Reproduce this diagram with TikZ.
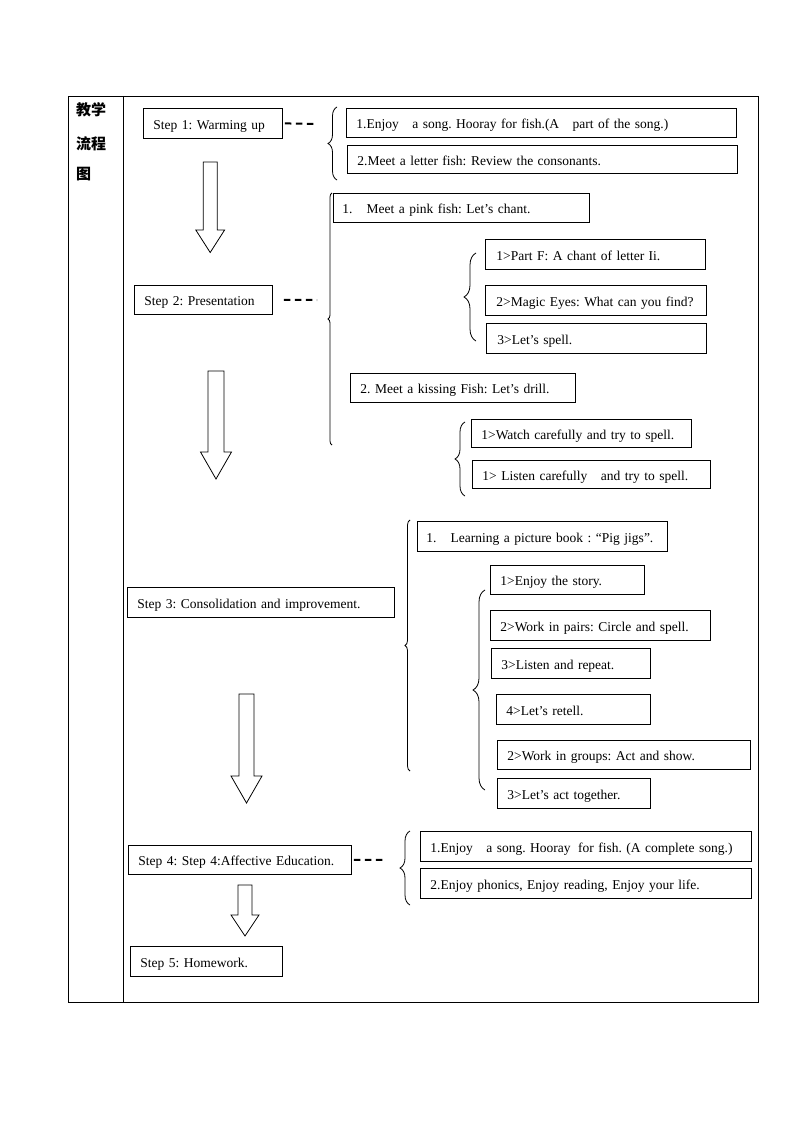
\documentclass[tikz,border=0pt]{standalone}
\usepackage{fontspec}
\setmainfont{Liberation Serif}
\newfontfamily\cjk{Noto Sans CJK SC}
\usetikzlibrary{decorations.pathreplacing}
\frenchspacing
% box macro: name, x1, y1, x2, y2, pad, text
\newcommand\bx[7]{%
  \pgfmathsetmacro\bxw{#4-#2-2*#6}%
  \pgfmathsetmacro\bxh{#5-#3}%
  \node[box,anchor=north west,minimum height=\bxh pt,text width=\bxw pt,inner xsep=#6pt] (#1) at (#2,#3) {\mbox{#7}};}
% hollow arrow: cx, top, headstart, tip, shaft half, head half
\newcommand\hollow[6]{%
  \draw[harrow] (#1-#5,#2) -- (#1+#5,#2) -- (#1+#5,#3) -- (#1+#6,#3) -- (#1,#4) -- (#1-#6,#3) -- (#1-#5,#3) -- cycle;}
% brace: xright, ytop, ybottom, amplitude
\newcommand\brc[4]{%
  \draw[brc,decoration={brace,amplitude=#4pt}] (#1,#3) -- (#1,#2);}
\begin{document}
\begin{tikzpicture}[x=1pt,y=-1pt,
  box/.style={draw,line width=0.8pt,fill=white,font=\fontsize{13.5}{15}\selectfont,inner ysep=0pt,text height=14pt,text depth=2pt,align=left},
  brc/.style={decorate,line width=0.8pt},
  dsh/.style={line width=2pt,dash pattern=on 6.5pt off 4.5pt},
  harrow/.style={line width=0.8pt},
  cjkt/.style={anchor=west,inner sep=0pt,font=\cjk\bfseries\fontsize{15}{17}\selectfont}]
\useasboundingbox (0,0) rectangle (794,1123);
% table
\draw[line width=0.9pt] (68,96) rectangle (758,1002);
\draw[line width=0.9pt] (123,96) -- (123,1002);
\node[cjkt] (c1) at (76,110) {教学};
\node[cjkt] (c2) at (76,144) {流程};
\node[cjkt] (c3) at (76,174) {图};

% Step 1
\bx{s1}{143}{108}{282}{138}{10}{Step 1: Warming up}
\coordinate (d1) at (317,124);
\draw[dsh] (s1.east) ++(2,0) -- (d1);
\brc{337}{107}{180}{9}
\bx{a1}{346}{108}{736}{137}{10}{1.Enjoy\hspace{9pt} a song. Hooray for fish.(A\hspace{9pt} part of the song.)}
\bx{a2}{347}{145}{737}{173}{10}{2.Meet a letter fish: Review the consonants.}
\hollow{210.2}{162}{230}{252.5}{7}{14.4}

% Step 2
\bx{s2}{134}{285}{272}{314}{10}{Step 2: Presentation}
\coordinate (d2) at (317,300);
\draw[dsh] (s2.east) ++(11,0) -- (d2);
\brc{332}{193}{445}{4}
\bx{b1}{333}{193}{589}{222}{9}{1.\hspace{14pt}Meet a pink fish: Let’s chant.}
\brc{476}{253}{341}{12}
\bx{b1a}{485}{239}{705}{269}{11}{1>Part F: A chant of letter Ii.}
\bx{b1b}{485}{285}{706}{315}{11}{2>Magic Eyes: What can you find?}
\bx{b1c}{486}{323}{706}{353}{11}{3>Let’s spell.}
\bx{b2}{350}{373}{575}{402}{10}{2. Meet a kissing Fish: Let’s drill.}
\brc{465}{422}{496}{10}
\bx{b2a}{471}{419}{691}{447}{10}{1>Watch carefully and try to spell.}
\bx{b2b}{472}{460}{710}{488}{10}{1> Listen carefully\hspace{9pt} and try to spell.}
\hollow{216}{371}{452}{479}{8}{15.5}

% Step 3
\bx{s3}{127}{587}{394}{617}{10}{Step 3: Consolidation and improvement.}
\brc{410}{520}{771}{5}
\bx{c1a0}{417}{521}{667}{551}{9}{1.\hspace{14pt}Learning a picture book : “Pig jigs”.}
\brc{485}{590}{790}{12}
\bx{e1}{490}{565}{644}{594}{10}{1>Enjoy the story.}
\bx{e2}{490}{610}{710}{640}{10}{2>Work in pairs: Circle and spell.}
\bx{e3}{491}{648}{650}{678}{10}{3>Listen and repeat.}
\bx{e4}{496}{694}{650}{724}{10}{4>Let’s retell.}
\bx{e5}{497}{740}{750}{769}{10}{2>Work in groups: Act and show.}
\bx{e6}{497}{778}{650}{808}{10}{3>Let’s act together.}
\hollow{246.5}{694}{776}{803}{7.5}{15.5}

% Step 4
\bx{s4}{128}{845}{351}{874}{10}{Step 4: Step 4:Affective Education.}
\coordinate (d4) at (386,860);
\draw[dsh] (s4.east) ++(2,0) -- (d4);
\brc{410}{831}{905}{10}
\bx{f1}{420}{831}{751}{861}{10}{1.Enjoy\hspace{9pt} a song. Hooray\hspace{3pt} for fish. (A complete song.)}
\bx{f2}{420}{868}{751}{898}{10}{2.Enjoy phonics, Enjoy reading, Enjoy your life.}
\hollow{245}{885}{915}{936}{7}{14}

% Step 5
\bx{s5}{130}{946}{282}{976}{10}{Step 5: Homework.}
\end{tikzpicture}
\end{document}
